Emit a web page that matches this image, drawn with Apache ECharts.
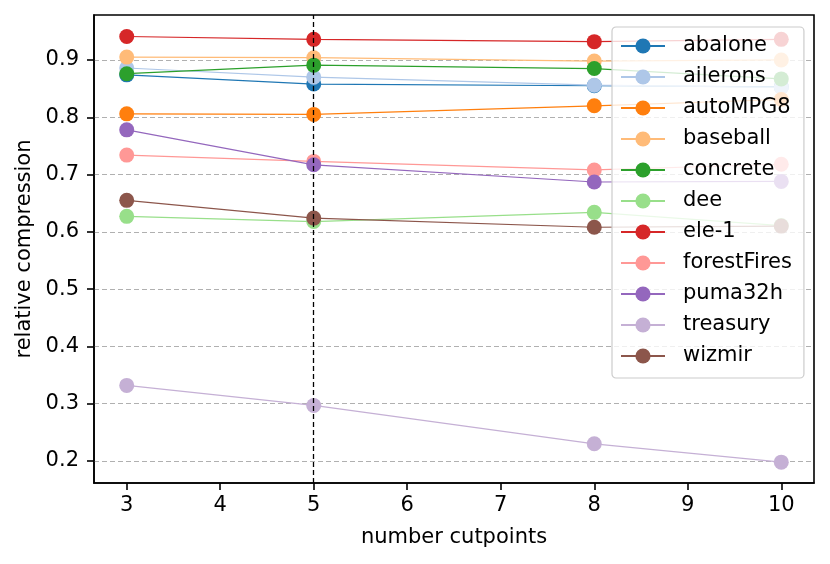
<!DOCTYPE html>
<html>
<head>
<meta charset="utf-8">
<script src="https://cdn.jsdelivr.net/npm/echarts@6/dist/echarts.min.js"></script>
<style>
  html, body { margin: 0; padding: 0; background: #fff; }
  #chart { width: 830px; height: 564px; }
</style>
</head>
<body>
<div id="chart"></div>
<script type="text/javascript">

// number of cutpoints on the x axis
var cutpoints = [3, 5, 8, 10];
var xTicks = [3, 4, 5, 6, 7, 8, 9, 10];
var yTicks = [0.2, 0.3, 0.4, 0.5, 0.6, 0.7, 0.8, 0.9];

// relative compression per dataset
var names = ['abalone', 'ailerons', 'autoMPG8', 'baseball', 'concrete', 'dee',
             'ele-1', 'forestFires', 'puma32h', 'treasury', 'wizmir'];
var abalone     = [0.874, 0.858, 0.855, 0.853];
var ailerons    = [0.886, 0.870, 0.856, 0.852];
var autoMPG8    = [0.806, 0.805, 0.820, 0.831];
var baseball    = [0.905, 0.904, 0.898, 0.900];
var concrete    = [0.876, 0.891, 0.885, 0.867];
var dee         = [0.627, 0.618, 0.634, 0.611];
var ele1        = [0.941, 0.936, 0.932, 0.936];
var forestFires = [0.734, 0.723, 0.708, 0.718];
var puma32h     = [0.778, 0.717, 0.687, 0.688];
var treasury    = [0.332, 0.297, 0.230, 0.198];
var wizmir      = [0.655, 0.624, 0.608, 0.610];

var values = [abalone, ailerons, autoMPG8, baseball, concrete, dee,
              ele1, forestFires, puma32h, treasury, wizmir];

// tab20 colours, in matplotlib order
var colors = ['#1f77b4', '#aec7e8', '#ff7f0e', '#ffbb78', '#2ca02c', '#98df8a',
              '#d62728', '#ff9896', '#9467bd', '#c5b0d5', '#8c564b'];

var font = 'DejaVu Sans';
var fsize = 21;

var series = [];
for (var i = 0; i < names.length; i++) {
    var pts = [];
    for (var j = 0; j < cutpoints.length; j++) {
        pts.push([cutpoints[j], values[i][j]]);
    }
    series.push({
        name: names[i],
        type: 'line',
        data: pts,
        symbol: 'circle',
        symbolSize: 15,
        showSymbol: true,
        color: colors[i],
        lineStyle: { width: 1.2, color: colors[i] },
        itemStyle: { color: colors[i] },
        emphasis: { disabled: true },
        z: 2 + i * 0.01
    });
}

// the dashed vertical line at 5 cutpoints
series[series.length - 1].markLine = {
    silent: true,
    symbol: ['none', 'none'],
    label: { show: false },
    lineStyle: { color: '#000', type: [5, 3], width: 1.3 },
    data: [{ xAxis: 5 }],
    z: 10
};

var myChart = echarts.init(document.getElementById('chart'));
var option = {
    animation: false,
    backgroundColor: '#fff',
    textStyle: { fontFamily: font },
    grid: {
        left: 94, right: 16, top: 15, bottom: 81,
        show: true,
        borderColor: '#000',
        borderWidth: 1.6,
        backgroundColor: 'transparent'
    },
    legend: {
        orient: 'vertical',
        left: 612,
        top: 27,
        padding: [8, 12, 11, 8],
        itemGap: 9,
        itemWidth: 44,
        itemHeight: 19,
        backgroundColor: 'rgba(255,255,255,0.8)',
        borderColor: '#cccccc',
        borderWidth: 1.2,
        borderRadius: 4,
        textStyle: {
            fontFamily: font,
            fontSize: fsize,
            color: '#000',
            lineHeight: 22,
            padding: [0, 0, 0, 13]
        },
        data: names,
        z: 20
    },
    xAxis: {
        type: 'value',
        min: 2.65,
        max: 10.35,
        name: 'number cutpoints',
        nameLocation: 'middle',
        nameGap: 44,
        nameTextStyle: { fontFamily: font, fontSize: fsize, color: '#000' },
        axisLine: { show: true, lineStyle: { color: '#000', width: 1.6 } },
        axisTick: { show: true, length: 7, lineStyle: { color: '#000', width: 1.6 }, customValues: xTicks },
        axisLabel: { fontFamily: font, fontSize: fsize, color: '#000', margin: 12, customValues: xTicks },
        splitLine: { show: false }
    },
    yAxis: {
        type: 'value',
        min: 0.1616,
        max: 0.9785,
        name: 'relative compression',
        nameLocation: 'middle',
        nameGap: 58,
        nameTextStyle: { fontFamily: font, fontSize: fsize, color: '#000' },
        axisLine: { show: true, lineStyle: { color: '#000', width: 1.6 } },
        axisTick: { show: true, length: 7, lineStyle: { color: '#000', width: 1.6 }, customValues: yTicks },
        axisLabel: { fontFamily: font, fontSize: fsize, color: '#000', margin: 15, customValues: yTicks },
        splitLine: { show: true, lineStyle: { color: '#b0b0b0', type: [5, 3], width: 1.2 } }
    },
    series: series
};
myChart.setOption(option);

</script>
</body>
</html>
